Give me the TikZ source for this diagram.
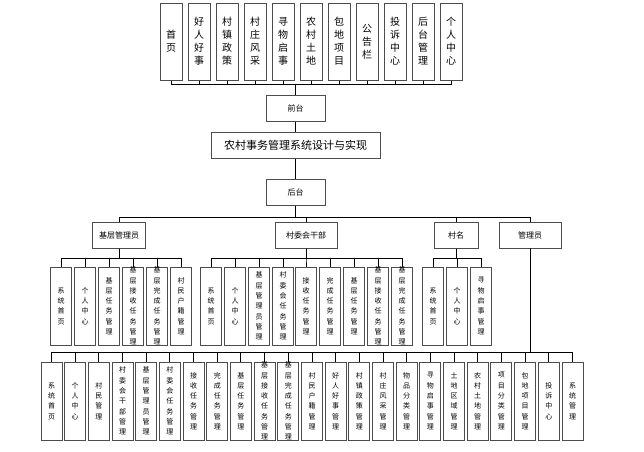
\documentclass[tikz,border=0pt]{standalone}
\usepackage{fontspec}
\usepackage{tikz}
\newfontfamily\cjk{Noto Sans CJK SC}

% vertical text, one character per line
\makeatletter
\def\vtxt#1{\vtxt@a#1\relax}
\def\vtxt@a#1{#1\vtxt@b}
\def\vtxt@b#1{\ifx#1\relax\else\\#1\expandafter\vtxt@b\fi}
\makeatother

\tikzset{
	box/.style={draw=black!70, line width=1pt, fill=white, inner sep=0pt, font=\cjk\fontsize{8}{9}\selectfont},
	menu/.style={box, minimum width=22pt, minimum height=77pt},
	leaf/.style={box, minimum width=21pt, minimum height=78pt},
	menutxt/.style={align=center, inner sep=0pt, font=\cjk\fontsize{10}{13}\selectfont},
	leaftxt/.style={align=center, inner sep=0pt, font=\cjk\fontsize{7}{10.3}\selectfont},
	link/.style={draw=black, line width=1pt},
}

\begin{document}
\begin{tikzpicture}[x=1pt, y=-1pt]
	\useasboundingbox (0,0) rectangle (644,451);
	% front end menu
	\node[menu, label={[menutxt]center:\vtxt{首页}}] (t1) at (171,41.5) {};
	\node[menu, label={[menutxt]center:\vtxt{好人好事}}] (t2) at (199,41.5) {};
	\node[menu, label={[menutxt]center:\vtxt{村镇政策}}] (t3) at (227,41.5) {};
	\node[menu, label={[menutxt]center:\vtxt{村庄风采}}] (t4) at (255,41.5) {};
	\node[menu, label={[menutxt]center:\vtxt{寻物启事}}] (t5) at (283,41.5) {};
	\node[menu, label={[menutxt]center:\vtxt{农村土地}}] (t6) at (311,41.5) {};
	\node[menu, label={[menutxt]center:\vtxt{包地项目}}] (t7) at (339,41.5) {};
	\node[menu, label={[menutxt]center:\vtxt{公告栏}}] (t8) at (367,41.5) {};
	\node[menu, label={[menutxt]center:\vtxt{投诉中心}}] (t9) at (395,41.5) {};
	\node[menu, label={[menutxt]center:\vtxt{后台管理}}] (t10) at (423,41.5) {};
	\node[menu, label={[menutxt]center:\vtxt{个人中心}}] (t11) at (451,41.5) {};
	% main line
	\node[box, minimum width=59pt, minimum height=26pt] (front) at (295.5,108) {前台};
	\node[box, minimum width=169pt, minimum height=26pt, font=\cjk\fontsize{11}{12}\selectfont] (sys) at (295.5,145) {农村事务管理系统设计与实现};
	\node[box, minimum width=59pt, minimum height=26pt] (back) at (295.5,192) {后台};
	% roles
	\node[box, minimum width=53pt, minimum height=26pt] (jc) at (119,235) {基层管理员};
	\node[box, minimum width=62pt, minimum height=26pt] (cw) at (306,235) {村委会干部};
	\node[box, minimum width=44pt, minimum height=26pt] (cm) at (456,235) {村名};
	\node[box, minimum width=62pt, minimum height=26pt] (gl) at (530,235) {管理员};
	% basic-level manager
	\node[leaf, label={[leaftxt]center:\vtxt{系统首页}}] (jc1) at (61,306) {};
	\node[leaf, label={[leaftxt]center:\vtxt{个人中心}}] (jc2) at (85,306) {};
	\node[leaf, label={[leaftxt]center:\vtxt{基层任务管理}}] (jc3) at (109,306) {};
	\node[leaf, label={[leaftxt]center:\vtxt{基层接收任务管理}}] (jc4) at (133,306) {};
	\node[leaf, label={[leaftxt]center:\vtxt{基层完成任务管理}}] (jc5) at (157,306) {};
	\node[leaf, label={[leaftxt]center:\vtxt{村民户籍管理}}] (jc6) at (181,306) {};
	% village committee
	\node[leaf, label={[leaftxt]center:\vtxt{系统首页}}] (cw1) at (211,306) {};
	\node[leaf, label={[leaftxt]center:\vtxt{个人中心}}] (cw2) at (235,306) {};
	\node[leaf, label={[leaftxt]center:\vtxt{基层管理员管理}}] (cw3) at (259,306) {};
	\node[leaf, label={[leaftxt]center:\vtxt{村委会任务管理}}] (cw4) at (283,306) {};
	\node[leaf, label={[leaftxt]center:\vtxt{接收任务管理}}] (cw5) at (306,306) {};
	\node[leaf, label={[leaftxt]center:\vtxt{完成任务管理}}] (cw6) at (330,306) {};
	\node[leaf, label={[leaftxt]center:\vtxt{基层任务管理}}] (cw7) at (354,306) {};
	\node[leaf, label={[leaftxt]center:\vtxt{基层接收任务管理}}] (cw8) at (378,306) {};
	\node[leaf, label={[leaftxt]center:\vtxt{基层完成任务管理}}] (cw9) at (402,306) {};
	% villager
	\node[leaf, label={[leaftxt]center:\vtxt{系统首页}}] (cm1) at (433,306) {};
	\node[leaf, label={[leaftxt]center:\vtxt{个人中心}}] (cm2) at (457,306) {};
	\node[leaf, label={[leaftxt]center:\vtxt{寻物启事管理}}] (cm3) at (481,306) {};
	% administrator
	\node[leaf, label={[leaftxt]center:\vtxt{系统首页}}] (gl1) at (51.5,401) {};
	\node[leaf, label={[leaftxt]center:\vtxt{个人中心}}] (gl2) at (75.2,401) {};
	\node[leaf, label={[leaftxt]center:\vtxt{村民管理}}] (gl3) at (98.9,401) {};
	\node[leaf, label={[leaftxt]center:\vtxt{村委会干部管理}}] (gl4) at (122.5,401) {};
	\node[leaf, label={[leaftxt]center:\vtxt{基层管理员管理}}] (gl5) at (146.2,401) {};
	\node[leaf, label={[leaftxt]center:\vtxt{村委会任务管理}}] (gl6) at (169.9,401) {};
	\node[leaf, label={[leaftxt]center:\vtxt{接收任务管理}}] (gl7) at (193.6,401) {};
	\node[leaf, label={[leaftxt]center:\vtxt{完成任务管理}}] (gl8) at (217.3,401) {};
	\node[leaf, label={[leaftxt]center:\vtxt{基层任务管理}}] (gl9) at (240.9,401) {};
	\node[leaf, label={[leaftxt]center:\vtxt{基层接收任务管理}}] (gl10) at (264.6,401) {};
	\node[leaf, label={[leaftxt]center:\vtxt{基层完成任务管理}}] (gl11) at (288.3,401) {};
	\node[leaf, label={[leaftxt]center:\vtxt{村民户籍管理}}] (gl12) at (312.0,401) {};
	\node[leaf, label={[leaftxt]center:\vtxt{好人好事管理}}] (gl13) at (335.7,401) {};
	\node[leaf, label={[leaftxt]center:\vtxt{村镇政策管理}}] (gl14) at (359.3,401) {};
	\node[leaf, label={[leaftxt]center:\vtxt{村庄风采管理}}] (gl15) at (383.0,401) {};
	\node[leaf, label={[leaftxt]center:\vtxt{物品分类管理}}] (gl16) at (406.7,401) {};
	\node[leaf, label={[leaftxt]center:\vtxt{寻物启事管理}}] (gl17) at (430.4,401) {};
	\node[leaf, label={[leaftxt]center:\vtxt{土地区域管理}}] (gl18) at (454.1,401) {};
	\node[leaf, label={[leaftxt]center:\vtxt{农村土地管理}}] (gl19) at (477.7,401) {};
	\node[leaf, label={[leaftxt]center:\vtxt{项目分类管理}}] (gl20) at (501.4,401) {};
	\node[leaf, label={[leaftxt]center:\vtxt{包地项目管理}}] (gl21) at (525.1,401) {};
	\node[leaf, label={[leaftxt]center:\vtxt{投诉中心}}] (gl22) at (548.8,401) {};
	\node[leaf, label={[leaftxt]center:\vtxt{系统管理}}] (gl23) at (572.5,401) {};
	% connectors
	\foreach \n in {t1,t2,t3,t4,t5,t6,t7,t8,t9,t10,t11}
		\draw[link] (front.north) -- ++(0,-10) -| (\n.south);
	\draw[link] (front) -- (sys);
	\draw[link] (sys) -- (back);
	\foreach \n in {jc,cw,cm,gl}
		\draw[link] (back.south) -- ++(0,11.5) -| (\n.north);
	\foreach \n in {1,...,6}
		\draw[link] (jc.south) -- ++(0,10) -| (jc\n.north);
	\foreach \n in {1,...,9}
		\draw[link] (cw.south) -- ++(0,10) -| (cw\n.north);
	\foreach \n in {1,2,3}
		\draw[link] (cm.south) -- ++(0,10) -| (cm\n.north);
	\foreach \n in {1,...,23}
		\draw[link] (gl.south) -- ++(0,104) -| (gl\n.north);
\end{tikzpicture}
\end{document}
